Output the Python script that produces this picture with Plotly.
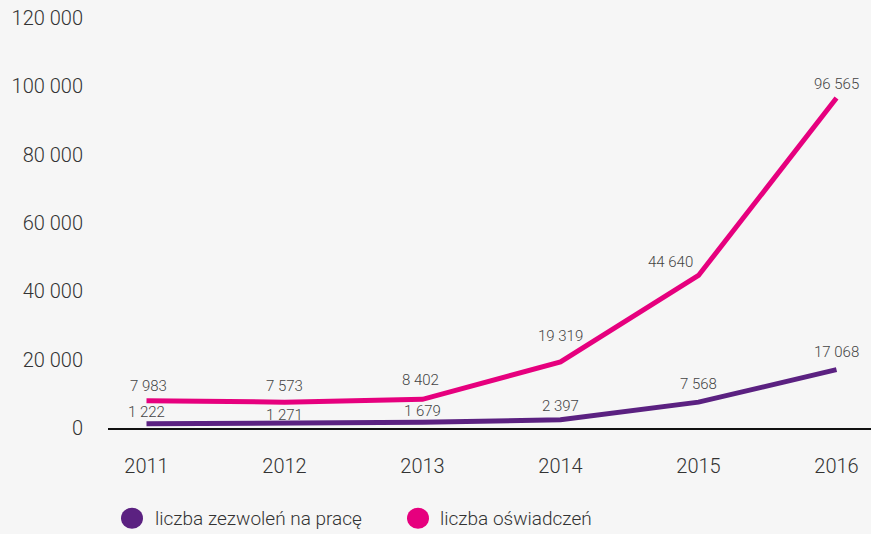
import plotly.graph_objects as go

years = [2011, 2012, 2013, 2014, 2015, 2016]
zezwolenia = [1222, 1271, 1679, 2397, 7568, 17068]
oswiadczenia = [7983, 7573, 8402, 19319, 44640, 96565]
y_ticks = [0, 20000, 40000, 60000, 80000, 100000, 120000]
series_names = ["liczba zezwoleń na pracę", "liczba oświadczeń"]
colors = ["#5b2181", "#e6007e"]

# label placement offsets (pixels) relative to the data point
zez_label_dx = [0, 0, 0, 0, 0, 0]
zez_label_dy = [12, 9, 11, 14, 18, 18]
osw_label_dx = [2, 0, -2, 0, -28, 0]
osw_label_dy = [15, 16, 19, 26, 13, 14]

FONT = "Roboto"
fig = go.Figure()
for vals, name, col, dxs, dys in [
    (zezwolenia, series_names[0], colors[0], zez_label_dx, zez_label_dy),
    (oswiadczenia, series_names[1], colors[1], osw_label_dx, osw_label_dy),
]:
    fig.add_trace(go.Scatter(
        x=years, y=vals, name=name, mode="lines",
        line=dict(color=col, width=5),
        showlegend=False, cliponaxis=False,
    ))
    for x, v, dx, dy in zip(years, vals, dxs, dys):
        fig.add_annotation(x=x, y=v, xref="x", yref="y", showarrow=False,
                           text=f"{v:,}".replace(",", " "),
                           xanchor="center", yanchor="middle", xshift=dx, yshift=dy,
                           font=dict(family=FONT, size=15, color="#444444", weight=300))

fig.update_layout(
    width=871, height=534,
    margin=dict(l=108, r=0, t=17.5, b=105.5),
    paper_bgcolor="#f6f6f6", plot_bgcolor="#f6f6f6",
    separators=", ",
    font=dict(family=FONT, size=18, color="#333333", weight=300),
    xaxis=dict(range=[2011 - 38.5 / 138, 2016 + 34.5 / 138], tickvals=years, ticktext=[str(y) for y in years],
               showgrid=False, zeroline=False, showline=True, linecolor="#111111", linewidth=1.5,
               ticks="", ticklabelstandoff=19,
               tickfont=dict(family=FONT, size=20, color="#333333", weight=300)),
    yaxis=dict(range=[0, 120000], tickvals=y_ticks, tickformat=",d",
               showgrid=False, zeroline=False, showline=False, ticks="",
               ticklabelstandoff=24,
               tickfont=dict(family=FONT, size=20, color="#333333", weight=300)),
)

# manual legend
legend_items = [(series_names[0], colors[0], 132, 153), (series_names[1], colors[1], 418, 438)]
H = 534 - 17.5 - 105.5
for name, col, cx, tx in legend_items:
    ya = (534 - 519 - 105.5) / H
    fig.add_shape(type="circle", xref="paper", yref="paper", xsizemode="pixel", ysizemode="pixel",
                  xanchor=(cx - 108) / 763, yanchor=ya,
                  x0=-11, x1=11, y0=-10.5, y1=10.5, fillcolor=col, line=dict(width=0))
    fig.add_annotation(xref="paper", yref="paper", x=(tx - 108) / 763, y=ya,
                       xanchor="left", yanchor="middle", showarrow=False, text=name,
                       font=dict(family=FONT, size=19, color="#333333", weight=300))

fig.write_html("out.html", config={"displayModeBar": False},
               post_script="document.body.style.margin='0';document.body.style.background='#f6f6f6';")
